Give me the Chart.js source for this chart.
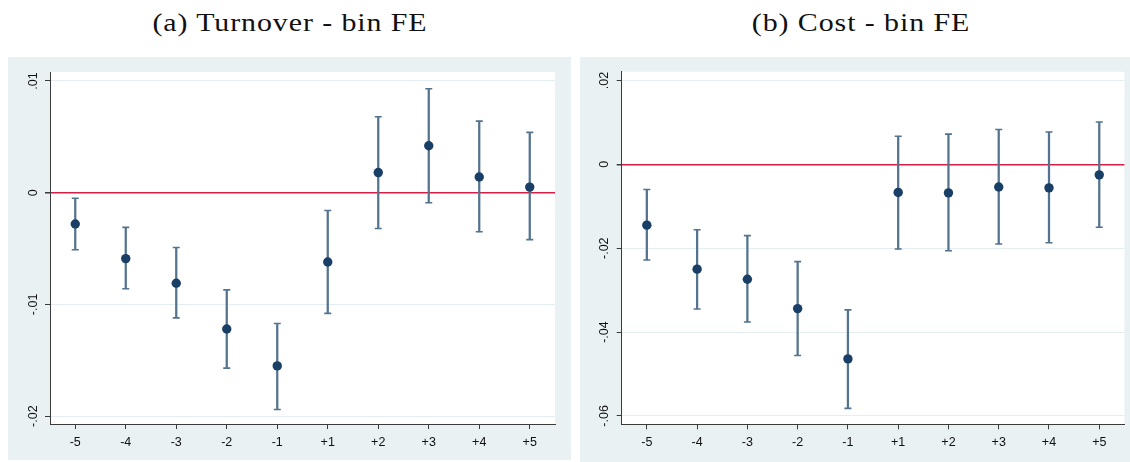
<!DOCTYPE html>
<html>
<head>
<meta charset="utf-8">
<script src="https://cdn.jsdelivr.net/npm/chart.js@4"></script>
<style>
  body { margin: 0; background: #ffffff; width: 1130px; height: 462px; position: relative; overflow: hidden; }
  .title { position: absolute; top: 8px; font-family: "Liberation Serif", serif; font-size: 26px; line-height: 30px;
           letter-spacing: 0.8px; color: #111; text-align: center; white-space: nowrap; transform: scaleX(1.15); }
  .panel { position: absolute; background: #e9f1f3; }
</style>
</head>
<body>
<div class="title" style="left:100px;width:380px;">(a) Turnover - bin FE</div>
<div class="title" style="left:671px;width:380px;">(b) Cost - bin FE</div>
<div class="panel" style="left:8px;top:57px;width:563px;height:403px;"><canvas id="turnover-chart" width="563" height="403"></canvas></div>
<div class="panel" style="left:580px;top:57px;width:550px;height:405px;"><canvas id="cost-chart" width="550" height="405"></canvas></div>
<script>
// event-time bins
const periods = ['-5', '-4', '-3', '-2', '-1', '+1', '+2', '+3', '+4', '+5'];

// (a) turnover: point estimates and CI bounds
const turnoverEst = [-0.0028, -0.0059, -0.0081, -0.0122, -0.0155, -0.0062, 0.0018, 0.0042, 0.0014, 0.0005];
const turnoverLo  = [-0.0051, -0.0086, -0.0112, -0.0157, -0.0194, -0.0108, -0.0032, -0.0009, -0.0035, -0.0042];
const turnoverHi  = [-0.0005, -0.0031, -0.0049, -0.0087, -0.0117, -0.0016, 0.0068, 0.0093, 0.0064, 0.0054];
const turnoverTicks = [-0.02, -0.01, 0, 0.01];
const turnoverTickLabels = ['-.02', '-.01', '0', '.01'];

// (b) cost: point estimates and CI bounds
const costEst = [-0.0145, -0.0250, -0.0274, -0.0344, -0.0464, -0.0067, -0.0068, -0.0054, -0.0056, -0.0025];
const costLo  = [-0.0228, -0.0345, -0.0376, -0.0456, -0.0582, -0.0202, -0.0206, -0.0190, -0.0187, -0.0150];
const costHi  = [-0.0060, -0.0156, -0.0170, -0.0232, -0.0347, 0.0067, 0.0072, 0.0083, 0.0077, 0.0101];
const costTicks = [-0.06, -0.04, -0.02, 0, 0.02];
const costTickLabels = ['-.06', '-.04', '-.02', '0', '.02'];

const pointColor = '#1a3f66';
const barColor = '#53738f';
const zeroColor = '#d81e45';
const gridColor = '#e4edf0';
const axisColor = '#3a3a3a';

// white plot region, like Stata's plotregion
const plotBg = {
    id: 'plotBg',
    beforeDraw(chart) {
        const a = chart.chartArea;
        const ctx = chart.ctx;
        ctx.save();
        ctx.fillStyle = '#ffffff';
        ctx.fillRect(a.left, a.top, a.right - a.left, a.bottom - a.top);
        ctx.restore();
    }
};

function makeChart(id, est, lo, hi, yMin, yMax, ticks, tickLabels, pad, yWidth, xHeight) {
    const ctx = document.getElementById(id).getContext('2d');
    return new Chart(ctx, {
        type: 'bar',
        data: {
            labels: periods,
            datasets: [
                {
                    type: 'line',
                    data: est,
                    showLine: false,
                    pointStyle: 'circle',
                    pointRadius: 4.7,
                    pointBackgroundColor: pointColor,
                    pointBorderWidth: 0
                },
                {
                    type: 'line',
                    data: lo,
                    showLine: false,
                    pointStyle: 'line',
                    pointRadius: 3.5,
                    pointBorderColor: barColor,
                    pointBorderWidth: 1.6
                },
                {
                    type: 'line',
                    data: hi,
                    showLine: false,
                    pointStyle: 'line',
                    pointRadius: 3.5,
                    pointBorderColor: barColor,
                    pointBorderWidth: 1.6
                },
                {
                    type: 'bar',
                    data: lo.map((l, i) => [l, hi[i]]),
                    backgroundColor: barColor,
                    borderWidth: 0,
                    barThickness: 1.6
                }
            ]
        },
        options: {
            responsive: false,
            animation: false,
            layout: { padding: pad },
            plugins: {
                legend: { display: false },
                tooltip: { enabled: false },
                title: { display: false }
            },
            scales: {
                x: {
                    offset: true,
                    grid: { offset: false, drawOnChartArea: false, drawTicks: true, tickLength: 5, tickColor: axisColor },
                    border: { display: true, color: axisColor, width: 1 },
                    ticks: {
                        color: '#111',
                        font: { family: '"Liberation Sans", Arial, sans-serif', size: 12.5 },
                        padding: 6,
                        maxRotation: 0,
                        minRotation: 0
                    },
                    afterFit: (scale) => { scale.height = xHeight; }
                },
                y: {
                    min: yMin,
                    max: yMax,
                    afterBuildTicks: (scale) => { scale.ticks = ticks.map(v => ({ value: v })); },
                    grid: {
                        color: (c) => (c.tick && c.tick.value === 0 ? zeroColor : gridColor),
                        lineWidth: (c) => (c.tick && c.tick.value === 0 ? 1.5 : 1),
                        tickLength: 5,
                        tickColor: axisColor
                    },
                    border: { display: true, color: axisColor, width: 1 },
                    ticks: {
                        color: '#111',
                        font: { family: '"Liberation Sans", Arial, sans-serif', size: 12.5 },
                        padding: 1,
                        minRotation: 90,
                        maxRotation: 90,
                        crossAlign: 'center',
                        callback: (v) => tickLabels[ticks.indexOf(v)]
                    },
                    afterFit: (scale) => { scale.width = yWidth; }
                }
            }
        },
        plugins: [plotBg]
    });
}

makeChart('turnover-chart', turnoverEst, turnoverLo, turnoverHi, -0.0207, 0.0108,
    turnoverTicks, turnoverTickLabels, { left: 0, top: 15, right: 16, bottom: 0 }, 42, 36);
makeChart('cost-chart', costEst, costLo, costHi, -0.0620, 0.0221,
    costTicks, costTickLabels, { left: 0, top: 14.7, right: 3.3, bottom: 0 }, 41.7, 37.7);
</script>
</body>
</html>
